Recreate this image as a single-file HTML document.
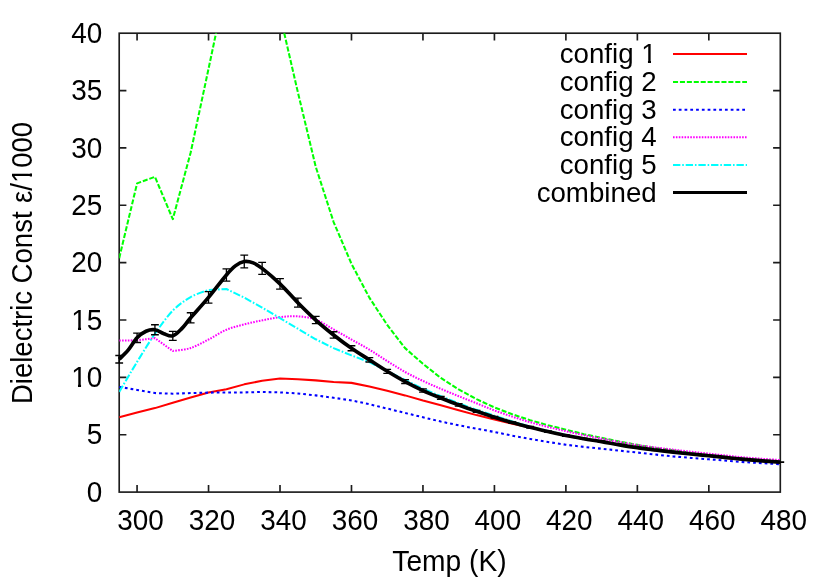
<!DOCTYPE html>
<html><head><meta charset="utf-8"><title>Dielectric Const vs Temp</title>
<style>html,body{margin:0;padding:0;background:#fff;}svg{display:block;will-change:transform;}text{font-family:"Liberation Sans",sans-serif;fill:#000;}</style>
</head><body>
<svg width="830" height="581" viewBox="0 0 830 581">
<rect width="830" height="581" fill="#fff"/>
<defs><clipPath id="c"><rect x="119.2" y="33.2" width="661.10" height="458.90"/></clipPath></defs>
<g stroke="#1c1c1c" stroke-width="1.65" fill="none" stroke-linecap="butt">
<rect x="119.2" y="33.2" width="661.10" height="458.90"/>
<path d="M137.07,492.1 v-7.2 M137.07,33.2 v7.2 M208.54,492.1 v-7.2 M208.54,33.2 v7.2 M280.01,492.1 v-7.2 M280.01,33.2 v7.2 M351.48,492.1 v-7.2 M351.48,33.2 v7.2 M422.95,492.1 v-7.2 M422.95,33.2 v7.2 M494.42,492.1 v-7.2 M494.42,33.2 v7.2 M565.89,492.1 v-7.2 M565.89,33.2 v7.2 M637.36,492.1 v-7.2 M637.36,33.2 v7.2 M708.83,492.1 v-7.2 M708.83,33.2 v7.2 M119.2,434.74 h7.2 M780.3,434.74 h-7.2 M119.2,377.38 h7.2 M780.3,377.38 h-7.2 M119.2,320.01 h7.2 M780.3,320.01 h-7.2 M119.2,262.65 h7.2 M780.3,262.65 h-7.2 M119.2,205.29 h7.2 M780.3,205.29 h-7.2 M119.2,147.93 h7.2 M780.3,147.93 h-7.2 M119.2,90.56 h7.2 M780.3,90.56 h-7.2 "/>
</g>
<g font-size="28.0">
<text transform="translate(102.3,501.80) scale(1,1.045)" text-anchor="end" font-size="27.9">0</text>
<text transform="translate(102.3,444.44) scale(1,1.045)" text-anchor="end" font-size="27.9">5</text>
<text transform="translate(102.3,387.07) scale(1,1.045)" text-anchor="end" font-size="27.9">10</text>
<text transform="translate(102.3,329.71) scale(1,1.045)" text-anchor="end" font-size="27.9">15</text>
<text transform="translate(102.3,272.35) scale(1,1.045)" text-anchor="end" font-size="27.9">20</text>
<text transform="translate(102.3,214.99) scale(1,1.045)" text-anchor="end" font-size="27.9">25</text>
<text transform="translate(102.3,157.62) scale(1,1.045)" text-anchor="end" font-size="27.9">30</text>
<text transform="translate(102.3,100.26) scale(1,1.045)" text-anchor="end" font-size="27.9">35</text>
<text transform="translate(102.3,42.90) scale(1,1.045)" text-anchor="end" font-size="27.9">40</text>
<text transform="translate(140.52,530.3) scale(1,1.045)" text-anchor="middle" font-size="27.9">300</text>
<text transform="translate(211.99,530.3) scale(1,1.045)" text-anchor="middle" font-size="27.9">320</text>
<text transform="translate(283.46,530.3) scale(1,1.045)" text-anchor="middle" font-size="27.9">340</text>
<text transform="translate(354.93,530.3) scale(1,1.045)" text-anchor="middle" font-size="27.9">360</text>
<text transform="translate(426.40,530.3) scale(1,1.045)" text-anchor="middle" font-size="27.9">380</text>
<text transform="translate(497.87,530.3) scale(1,1.045)" text-anchor="middle" font-size="27.9">400</text>
<text transform="translate(569.34,530.3) scale(1,1.045)" text-anchor="middle" font-size="27.9">420</text>
<text transform="translate(640.81,530.3) scale(1,1.045)" text-anchor="middle" font-size="27.9">440</text>
<text transform="translate(712.28,530.3) scale(1,1.045)" text-anchor="middle" font-size="27.9">460</text>
<text transform="translate(783.75,530.3) scale(1,1.045)" text-anchor="middle" font-size="27.9">480</text>
<text transform="translate(449.5,570.9) scale(1,1.035)" text-anchor="middle" font-size="28.2">Temp (K)</text>
<text transform="translate(31.7,404.0) rotate(-90) scale(1,1.06)" font-size="27.5">Dielectric</text>
<text transform="translate(31.7,283.5) rotate(-90) scale(1,1.06)" font-size="27.65">Const</text>
<text transform="translate(31.7,203.0) rotate(-90) scale(1,1.06)" font-size="27.5">ε/1000</text>
<text x="656.7" y="63.10" text-anchor="end" font-size="27.7">config 1</text>
<text x="656.7" y="91.10" text-anchor="end" font-size="27.7">config 2</text>
<text x="656.7" y="118.90" text-anchor="end" font-size="27.7">config 3</text>
<text x="656.7" y="146.30" text-anchor="end" font-size="27.7">config 4</text>
<text x="656.7" y="174.10" text-anchor="end" font-size="27.7">config 5</text>
<text x="656.7" y="201.60" text-anchor="end" font-size="27.7">combined</text>
</g>
<g fill="#fff" transform="translate(102.3,387.07) scale(1,1.045)"><rect x="-30.11" y="-3.03" width="5.79" height="3.68"/><rect x="-21.25" y="-3.03" width="6.07" height="3.68"/></g>
<g fill="#fff" transform="translate(102.3,329.71) scale(1,1.045)"><rect x="-30.11" y="-3.03" width="5.79" height="3.68"/><rect x="-21.25" y="-3.03" width="6.07" height="3.68"/></g>
<g fill="#fff"><rect x="642.19" y="60.08" width="5.76" height="3.67"/><rect x="650.99" y="60.08" width="6.04" height="3.67"/></g>
<g fill="#fff" transform="translate(31.7,203.0) rotate(-90) scale(1,1.06)"><rect x="20.79" y="-3.00" width="5.72" height="3.65"/><rect x="29.55" y="-3.00" width="6.01" height="3.65"/></g>
<g fill="none" stroke-width="2.05" stroke-linejoin="round" stroke-linecap="butt">
<path d="M673,54.0 H747" stroke="#ff0000" stroke-width="1.95"/>
<path clip-path="url(#c)" d="M119.20,417.18 L137.07,412.48 L154.94,408.12 L172.80,402.73 L190.67,397.57 L208.54,392.40 L226.41,389.19 L244.27,384.37 L262.14,380.70 L280.01,378.52 L297.88,379.33 L315.74,380.36 L333.61,381.96 L351.48,382.88 L369.35,386.44 L387.21,390.68 L405.08,395.39 L422.95,400.55 L440.82,405.25 L458.68,410.30 L476.55,415.12 L494.42,419.48 L512.29,423.84 L530.15,427.51 L548.02,431.75 L565.89,435.77 L583.76,438.98 L601.62,441.85 L619.49,445.06 L637.36,447.93 L655.23,450.23 L673.09,452.29 L690.96,454.24 L708.83,455.96 L726.70,457.91 L744.56,459.63 L762.43,461.12 L780.30,462.39" stroke="#ff0000"/>
<path d="M673,82.0 H747" stroke="#00ff00" stroke-width="1.95" stroke-dasharray="5.06 1.86"/>
<path clip-path="url(#c)" d="M119.20,258.18 L137.07,183.38 L154.94,176.84 L172.80,219.17 L190.67,152.51 L208.54,68.76 L226.41,-16.13 L244.27,-81.52 L262.14,-58.58 L280.01,14.84 L297.88,92.28 L315.74,166.74 L333.61,222.04 L351.48,263.80 L369.35,297.64 L387.21,324.95 L405.08,348.12 L422.95,363.84 L440.82,377.95 L458.68,389.42 L476.55,399.17 L494.42,407.43 L512.29,414.32 L530.15,420.17 L548.02,425.22 L565.89,429.69 L583.76,434.16 L601.62,437.84 L619.49,441.62 L637.36,444.83 L655.23,448.05 L673.09,450.23 L690.96,452.98 L708.83,454.93 L726.70,456.88 L744.56,458.72 L762.43,460.09 L780.30,461.35" stroke="#00ff00" stroke-dasharray="5.06 1.86"/>
<path d="M673,109.8 H747" stroke="#0000ff" stroke-width="1.95" stroke-dasharray="2.76 3.01"/>
<path clip-path="url(#c)" d="M119.20,386.90 L137.07,389.99 L154.94,393.09 L172.80,393.67 L190.67,393.09 L208.54,392.63 L226.41,392.52 L244.27,392.40 L262.14,391.95 L280.01,392.40 L297.88,393.44 L315.74,395.39 L333.61,397.80 L351.48,400.43 L369.35,404.22 L387.21,408.58 L405.08,412.94 L422.95,417.30 L440.82,421.54 L458.68,425.33 L476.55,428.66 L494.42,431.98 L512.29,435.66 L530.15,438.98 L548.02,441.97 L565.89,444.72 L583.76,446.90 L601.62,448.73 L619.49,450.68 L637.36,452.52 L655.23,454.58 L673.09,456.42 L690.96,457.91 L708.83,459.29 L726.70,460.78 L744.56,462.16 L762.43,463.19 L780.30,464.22" stroke="#0000ff" stroke-dasharray="2.76 3.01"/>
<path d="M673,137.2 H747" stroke="#ff00ff" stroke-width="1.95" stroke-dasharray="1.60 1.28"/>
<path clip-path="url(#c)" d="M119.20,340.55 L137.07,340.32 L154.94,338.14 L172.80,350.99 C175.78,350.49 184.71,349.92 190.67,348.01 C196.63,346.09 202.58,342.56 208.54,339.52 C214.49,336.48 220.45,332.29 226.41,329.76 C232.36,327.24 238.32,325.94 244.27,324.37 C250.23,322.80 256.18,321.56 262.14,320.36 C268.10,319.15 274.05,317.81 280.01,317.14 C285.96,316.48 291.92,315.94 297.88,316.34 C303.83,316.74 309.79,317.37 315.74,319.55 C321.70,321.73 327.65,326.09 333.61,329.42 C339.57,332.75 345.52,336.15 351.48,339.52 C357.43,342.88 363.39,346.02 369.35,349.61 C375.30,353.21 381.26,357.36 387.21,361.08 C393.17,364.81 399.13,368.68 405.08,371.98 C411.04,375.29 416.99,378.12 422.95,380.93 C428.90,383.74 434.86,386.30 440.82,388.85 C446.77,391.39 452.73,393.78 458.68,396.19 C464.64,398.60 470.60,400.93 476.55,403.30 C482.51,405.67 488.46,408.20 494.42,410.42 C500.37,412.63 506.33,414.64 512.29,416.61 C518.24,418.58 524.20,420.51 530.15,422.23 C536.11,423.95 542.07,425.44 548.02,426.94 C553.98,428.43 559.93,429.80 565.89,431.18 C571.85,432.56 577.80,433.95 583.76,435.20 C589.71,436.44 595.67,437.49 601.62,438.64 C607.58,439.79 613.54,441.01 619.49,442.08 C625.45,443.15 631.40,444.16 637.36,445.06 C643.32,445.96 649.27,446.71 655.23,447.47 C661.18,448.24 667.14,448.94 673.09,449.65 C679.05,450.36 685.01,451.05 690.96,451.72 C696.92,452.39 702.87,453.02 708.83,453.67 C714.79,454.32 720.74,454.99 726.70,455.62 C732.65,456.25 738.61,456.92 744.56,457.45 C750.52,457.99 756.48,458.39 762.43,458.83 C768.39,459.27 777.32,459.88 780.30,460.09" stroke="#ff00ff" stroke-dasharray="1.60 1.28"/>
<path d="M673,165.0 H747" stroke="#00ffff" stroke-width="1.95" stroke-dasharray="7.37 1.86 1.60 1.86"/>
<path clip-path="url(#c)" d="M119.20,391.95 C122.18,386.94 131.11,371.58 137.07,361.89 C143.02,352.19 148.98,342.33 154.94,333.78 C160.89,325.23 166.85,316.72 172.80,310.61 C178.76,304.49 184.71,300.51 190.67,297.07 C196.63,293.63 205.56,291.14 208.54,289.95 L226.41,289.04 L244.27,297.64 L262.14,307.62 L280.01,318.18 L297.88,328.73 L315.74,339.29 L333.61,348.12 L351.48,355.35 L369.35,362.12 L387.21,371.07 L405.08,379.90 L422.95,388.73 L440.82,396.19 L458.68,403.30 L476.55,409.84 L494.42,415.69 L512.29,421.43 L530.15,426.71 L548.02,430.95 L565.89,434.97 L583.76,438.75 L601.62,441.62 L619.49,444.83 L637.36,447.70 L655.23,450.00 L673.09,452.06 L690.96,454.01 L708.83,455.73 L726.70,457.68 L744.56,459.40 L762.43,460.89 L780.30,462.16" stroke="#00ffff" stroke-dasharray="7.37 1.86 1.60 1.86"/>
</g>
<path d="M673,192.5 H747" stroke="#000" stroke-width="3.05" fill="none"/>
<path d="M119.20,359.25 C120.69,357.72 125.16,353.65 128.13,350.07 C131.11,346.49 134.09,340.93 137.07,337.79 C140.05,334.66 143.02,332.59 146.00,331.26 C148.98,329.92 151.96,329.34 154.94,329.76 C157.91,330.18 160.89,332.77 163.87,333.78 C166.85,334.79 169.82,336.70 172.80,335.84 C175.78,334.98 178.76,331.62 181.74,328.62 C184.71,325.61 186.20,323.03 190.67,317.83 C195.14,312.63 202.58,304.56 208.54,297.41 C214.49,290.26 221.94,280.18 226.41,274.93 C230.87,269.67 232.36,268.10 235.34,265.86 C238.32,263.63 241.30,262.00 244.27,261.50 C247.25,261.01 250.23,261.73 253.21,262.88 C256.18,264.03 257.67,264.89 262.14,268.39 C266.61,271.89 274.05,278.16 280.01,283.87 C285.96,289.59 291.92,296.67 297.88,302.69 C303.83,308.71 309.79,314.64 315.74,320.01 C321.70,325.39 327.65,330.22 333.61,334.93 C339.57,339.63 345.52,344.09 351.48,348.23 C357.43,352.38 363.39,355.98 369.35,359.82 C375.30,363.67 381.26,367.66 387.21,371.29 C393.17,374.93 399.13,378.41 405.08,381.62 C411.04,384.83 416.99,387.85 422.95,390.57 C428.90,393.28 434.86,395.52 440.82,397.91 C446.77,400.30 452.73,402.67 458.68,404.91 C464.64,407.15 470.60,409.29 476.55,411.33 C482.51,413.38 488.46,415.31 494.42,417.18 C500.37,419.06 506.33,420.89 512.29,422.58 C518.24,424.26 524.20,425.79 530.15,427.28 C536.11,428.77 542.07,430.15 548.02,431.53 C553.98,432.90 559.93,434.34 565.89,435.54 C571.85,436.75 577.80,437.74 583.76,438.75 C589.71,439.77 595.67,440.61 601.62,441.62 C607.58,442.63 613.54,443.82 619.49,444.83 C625.45,445.85 631.40,446.84 637.36,447.70 C643.32,448.56 649.27,449.27 655.23,450.00 C661.18,450.72 667.14,451.39 673.09,452.06 C679.05,452.73 685.01,453.40 690.96,454.01 C696.92,454.62 702.87,455.12 708.83,455.73 C714.79,456.34 720.74,457.07 726.70,457.68 C732.65,458.29 738.61,458.87 744.56,459.40 C750.52,459.94 756.48,460.44 762.43,460.89 C768.39,461.35 777.32,461.95 780.30,462.16" stroke="#000" stroke-width="3.7" fill="none" stroke-linejoin="round"/>
<path d="M119.20,355.50 V363.00 M115.30,355.50 h7.8 M115.30,363.00 h7.8 M137.07,333.09 V342.49 M133.17,333.09 h7.8 M133.17,342.49 h7.8 M154.94,324.76 V334.76 M151.04,324.76 h7.8 M151.04,334.76 h7.8 M172.80,331.34 V340.34 M168.90,331.34 h7.8 M168.90,340.34 h7.8 M190.67,312.73 V322.93 M186.77,312.73 h7.8 M186.77,322.93 h7.8 M208.54,291.61 V303.21 M204.64,291.61 h7.8 M204.64,303.21 h7.8 M226.41,268.83 V281.03 M222.51,268.83 h7.8 M222.51,281.03 h7.8 M244.27,255.20 V267.80 M240.37,255.20 h7.8 M240.37,267.80 h7.8 M262.14,262.39 V274.39 M258.24,262.39 h7.8 M258.24,274.39 h7.8 M280.01,278.57 V289.17 M276.11,278.57 h7.8 M276.11,289.17 h7.8 M297.88,298.19 V307.19 M293.98,298.19 h7.8 M293.98,307.19 h7.8 M315.74,316.36 V323.66 M311.84,316.36 h7.8 M311.84,323.66 h7.8 M333.61,331.73 V338.13 M329.71,331.73 h7.8 M329.71,338.13 h7.8 M351.48,345.73 V350.73 M347.58,345.73 h7.8 M347.58,350.73 h7.8 M369.35,357.62 V362.02 M365.45,357.62 h7.8 M365.45,362.02 h7.8 M387.21,369.29 V373.29 M383.31,369.29 h7.8 M383.31,373.29 h7.8 M405.08,379.72 V383.52 M401.18,379.72 h7.8 M401.18,383.52 h7.8 M422.95,388.97 V392.17 M419.05,388.97 h7.8 M419.05,392.17 h7.8 M440.82,396.51 V399.31 M436.92,396.51 h7.8 M436.92,399.31 h7.8 M458.68,403.71 V406.11 M454.78,403.71 h7.8 M454.78,406.11 h7.8 M476.55,410.33 V412.33 M472.65,410.33 h7.8 M472.65,412.33 h7.8 M494.42,416.28 V418.08 M490.52,416.28 h7.8 M490.52,418.08 h7.8 M512.29,421.78 V423.38 M508.39,421.78 h7.8 M508.39,423.38 h7.8 M530.15,426.48 V428.08 M526.25,426.48 h7.8 M526.25,428.08 h7.8 M548.02,430.83 V432.23 M544.12,430.83 h7.8 M544.12,432.23 h7.8 M565.89,434.84 V436.24 M561.99,434.84 h7.8 M561.99,436.24 h7.8 M583.76,438.15 V439.35 M579.86,438.15 h7.8 M579.86,439.35 h7.8 M601.62,441.02 V442.22 M597.72,441.02 h7.8 M597.72,442.22 h7.8 M619.49,444.33 V445.33 M615.59,444.33 h7.8 M615.59,445.33 h7.8 M637.36,447.20 V448.20 M633.46,447.20 h7.8 M633.46,448.20 h7.8 M655.23,449.50 V450.50 M651.33,449.50 h7.8 M651.33,450.50 h7.8 M673.09,451.66 V452.46 M669.19,451.66 h7.8 M669.19,452.46 h7.8 M690.96,453.61 V454.41 M687.06,453.61 h7.8 M687.06,454.41 h7.8 M708.83,455.33 V456.13 M704.93,455.33 h7.8 M704.93,456.13 h7.8 M726.70,457.28 V458.08 M722.80,457.28 h7.8 M722.80,458.08 h7.8 M744.56,459.10 V459.70 M740.66,459.10 h7.8 M740.66,459.70 h7.8 M762.43,460.59 V461.19 M758.53,460.59 h7.8 M758.53,461.19 h7.8 M780.30,461.86 V462.46 M776.40,461.86 h7.8 M776.40,462.46 h7.8 " stroke="#000" stroke-width="1.3" fill="none"/>
</svg>
</body></html>
